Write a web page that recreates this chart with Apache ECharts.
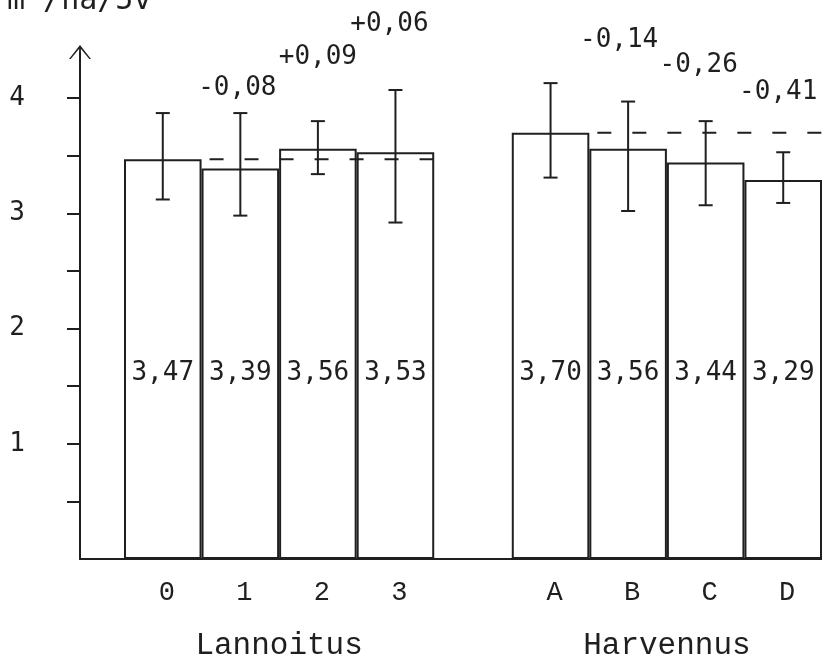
<!DOCTYPE html>
<html>
<head>
<meta charset="utf-8">
<script src="https://cdn.jsdelivr.net/npm/echarts@6/dist/echarts.min.js"></script>
<style>
  html, body { margin: 0; padding: 0; background: #ffffff; }
  #chart { width: 822px; height: 663px; }
</style>
</head>
<body>
<div id="chart"></div>
<script>
// ---- data ----
const categories = ['0', '1', '2', '3', '', 'A', 'B', 'C', 'D'];
const barValues  = [3.47, 3.39, 3.56, 3.53, null, 3.70, 3.56, 3.44, 3.29];
const errLow     = [3.12, 2.98, 3.34, 2.92, null, 3.31, 3.02, 3.07, 3.09];
const errHigh    = [3.87, 3.87, 3.80, 4.07, null, 4.13, 3.97, 3.80, 3.53];
const diffLabels = ['', '-0,08', '+0,09', '+0,06', '', '', '-0,14', '-0,26', '-0,41'];
const groupNames = ['Lannoitus', 'Harvennus'];
const groupFirst = [0, 5];
const groupLast  = [3, 8];
const yTickValues  = [0.5, 1, 1.5, 2, 2.5, 3, 3.5, 4];
const yLabelValues = [1, 2, 3, 4];
const yAxisTitle = 'm³/ha/5v';

// ---- styles ----
const INK = '#1f1f1f';
const NUM_FONT = '"DejaVu Sans Mono", monospace';
const CAT_FONT = '"Liberation Mono", monospace';
const diffLabelOffsets = [[0,0],[-3,-25],[0,-64],[-6,-66],[0,0],[0,0],[-9,-61],[-7,-56],[-5,-60]];

const groupCenters = groupFirst.map((f, g) => (f + groupLast[g]) / 2);
const refLines = groupFirst.map((f, g) => [f + 1, groupLast[g], barValues[f]]);

const chart = echarts.init(document.getElementById('chart'), null, { renderer: 'canvas' });

const arrowPath = 'path://M0,14 L11,0 L22,14 L20.3,14 L11,2.8 L1.7,14 Z M10.1,1.5 L11.9,1.5 L11.9,14 L10.1,14 Z';

const option = {
  backgroundColor: '#ffffff',
  animation: false,
  title: {
    text: yAxisTitle,
    left: 2, top: -19,
    textStyle: { fontFamily: NUM_FONT, fontSize: 30, fontWeight: 'normal', color: INK }
  },
  grid: [
    { left: 80, right: -4, top: 52, bottom: 104 },
    { left: 124, right: -4, top: 52, bottom: 104 }
  ],
  xAxis: [
    { gridIndex: 0, type: 'value', min: 0, max: 1, position: 'bottom',
      axisLine: { show: true, lineStyle: { color: INK, width: 2 } },
      axisTick: { show: false }, axisLabel: { show: false }, splitLine: { show: false } },
    { gridIndex: 1, type: 'category', data: categories, position: 'bottom',
      axisLine: { show: false }, axisTick: { show: false }, splitLine: { show: false },
      axisLabel: { margin: 20, fontFamily: CAT_FONT, fontSize: 27, color: INK, padding: [0, 0, 0, 8] } },
    { gridIndex: 1, type: 'value', min: -0.5, max: 8.5, position: 'bottom',
      axisLine: { show: false }, axisTick: { show: false }, splitLine: { show: false },
      axisLabel: { margin: 71, fontFamily: CAT_FONT, fontSize: 31, color: INK,
        customValues: groupCenters,
        formatter: v => { const i = groupCenters.indexOf(v); return i >= 0 ? groupNames[i] : ''; } } }
  ],
  yAxis: [
    { gridIndex: 0, type: 'value', min: 0, max: 4.4,
      axisLine: { show: true, lineStyle: { color: INK, width: 2 },
        symbol: ['none', arrowPath], symbolSize: [22, 14] },
      axisTick: { show: true, length: 13, lineStyle: { color: INK, width: 2 }, customValues: yTickValues },
      axisLabel: { margin: 55, fontFamily: NUM_FONT, fontSize: 26, color: INK,
        customValues: yLabelValues, padding: [0, 0, 8, 0] },
      splitLine: { show: false } },
    { gridIndex: 1, type: 'value', min: 0, max: 4.4, show: false, splitLine: { show: false } }
  ],
  series: [
    {
      type: 'bar', xAxisIndex: 1, yAxisIndex: 1,
      data: barValues,
      barCategoryGap: '0%',
      itemStyle: { color: '#ffffff', borderColor: INK, borderWidth: 2 },
      label: {
        show: true, position: 'insideBottom', distance: 186, verticalAlign: 'middle',
        fontFamily: NUM_FONT, fontSize: 26, color: INK,
        formatter: p => p.value == null ? '' : p.value.toFixed(2).replace('.', ',')
      },
      z: 2
    },
    {
      type: 'custom', xAxisIndex: 1, yAxisIndex: 1,
      data: refLines,
      encode: { x: [0, 1], y: 2 },
      renderItem: (params, api) => {
        const bw = api.size([1, 0])[0];
        const a = api.coord([api.value(0), api.value(2)]);
        const b = api.coord([api.value(1), api.value(2)]);
        return { type: 'line', shape: { x1: a[0] - bw / 2 + 8, y1: a[1], x2: b[0] + bw / 2, y2: b[1] },
          style: { stroke: INK, lineWidth: 2, lineDash: [14, 21] } };
      },
      z: 3
    },
    {
      type: 'custom', xAxisIndex: 1, yAxisIndex: 1,
      data: barValues.map((v, i) => [i, errLow[i], errHigh[i]]).filter(d => d[1] != null),
      encode: { x: 0, y: [1, 2] },
      renderItem: (params, api) => {
        const lo = api.coord([api.value(0), api.value(1)]);
        const hi = api.coord([api.value(0), api.value(2)]);
        const hw = 7;
        const st = { stroke: INK, lineWidth: 2 };
        return { type: 'group', children: [
          { type: 'line', shape: { x1: lo[0], y1: lo[1], x2: hi[0], y2: hi[1] }, style: st },
          { type: 'line', shape: { x1: lo[0] - hw, y1: lo[1], x2: lo[0] + hw, y2: lo[1] }, style: st },
          { type: 'line', shape: { x1: hi[0] - hw, y1: hi[1], x2: hi[0] + hw, y2: hi[1] }, style: st }
        ] };
      },
      z: 4
    },
    {
      type: 'scatter', xAxisIndex: 1, yAxisIndex: 1,
      symbolSize: 0,
      itemStyle: { opacity: 1, color: INK },
      data: diffLabels.map((t, i) => t ? { value: [i, errHigh[i]], name: t,
        label: { offset: diffLabelOffsets[i] } } : null).filter(d => d),
      label: { show: true, position: 'inside', formatter: p => p.name,
        fontFamily: NUM_FONT, fontSize: 26, color: INK },
      z: 5
    }
  ]
};
chart.setOption(option);
</script>
</body>
</html>
